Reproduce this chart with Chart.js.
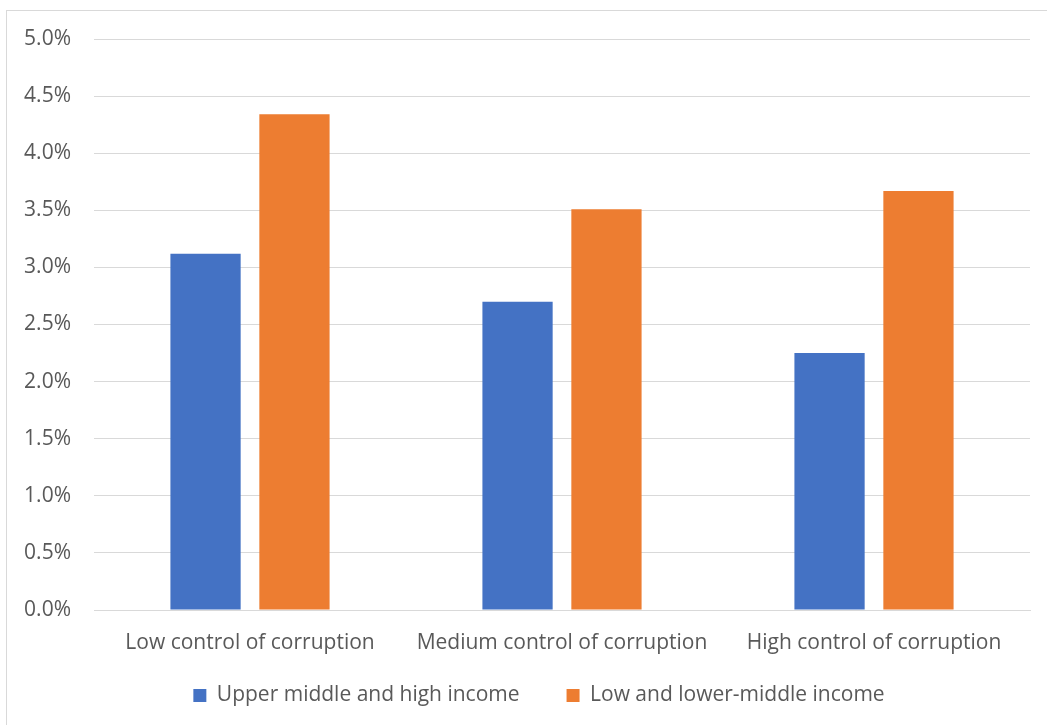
<!DOCTYPE html>
<html>
<head>
<meta charset="utf-8">
<script src="https://cdn.jsdelivr.net/npm/chart.js@4.4.1/dist/chart.umd.min.js"></script>
<style>
  html, body { margin: 0; padding: 0; background: #ffffff; }
  #wrap { position: relative; width: 1047px; height: 725px; overflow: hidden; }
  #frame { position: absolute; left: 6px; top: 10px; width: 1100px; height: 800px;
           border: 1px solid #d9d9d9; box-sizing: border-box; }
  canvas { position: absolute; left: 0; top: 0; }
</style>
</head>
<body>
<div id="wrap">
  <div id="frame"></div>
  <canvas id="c" width="1047" height="725"></canvas>
</div>
<script>
// Categories and series (values in percent)
const categories = ["Low control of corruption", "Medium control of corruption", "High control of corruption"];
const seriesNames = ["Upper middle and high income", "Low and lower-middle income"];
const upperMiddleHigh = [3.12, 2.70, 2.25];
const lowLowerMiddle = [4.34, 3.51, 3.67];
const yMin = 0, yMax = 5, yStep = 0.5;

const textColor = "#595959";
const gridColor = "#d9d9d9";
const fontFamily = "'Open Sans', 'Segoe UI', Calibri, sans-serif";
const fontSize = 21;

// Nudges the legend block after layout so it sits under the plot,
// closer to the category labels than the legend's own padding allows.
const legendOffset = {
  id: "legendOffset",
  afterLayout(chart, args, opts) {
    const lg = chart.legend;
    if (!lg) return;
    lg.left += opts.dx; lg.right += opts.dx;
    lg.top += opts.dy; lg.bottom += opts.dy;
  }
};

new Chart(document.getElementById("c"), {
  type: "bar",
  data: {
    labels: categories,
    datasets: [
      { label: seriesNames[0], data: upperMiddleHigh, backgroundColor: "#4472c4",
        categoryPercentage: 0.57, barPercentage: 0.79 },
      { label: seriesNames[1], data: lowLowerMiddle, backgroundColor: "#ed7d31",
        categoryPercentage: 0.57, barPercentage: 0.79 }
    ]
  },
  plugins: [legendOffset],
  options: {
    responsive: false,
    animation: false,
    devicePixelRatio: 1,
    layout: { padding: { left: 0, right: 17, top: 39, bottom: -20 } },
    plugins: {
      tooltip: { enabled: false },
      legendOffset: { dx: 24, dy: -29 },
      legend: {
        position: "bottom",
        labels: {
          color: textColor,
          font: { family: fontFamily, size: fontSize },
          boxWidth: 13, boxHeight: 13,
          padding: 47
        }
      }
    },
    scales: {
      x: {
        afterFit: (s) => { s.height = 57; },
        grid: { display: false, drawTicks: false },
        border: { display: true, color: gridColor, width: 1 },
        ticks: { color: textColor, font: { family: fontFamily, size: fontSize }, padding: 20 }
      },
      y: {
        min: yMin, max: yMax,
        afterFit: (s) => { s.width = 94; },
        grid: { color: gridColor, lineWidth: 1, drawTicks: false },
        border: { display: false },
        ticks: {
          stepSize: yStep,
          color: textColor,
          font: { family: fontFamily, size: fontSize },
          padding: 23,
          callback: (v) => v.toFixed(1) + "%"
        }
      }
    }
  }
});
</script>
</body>
</html>
